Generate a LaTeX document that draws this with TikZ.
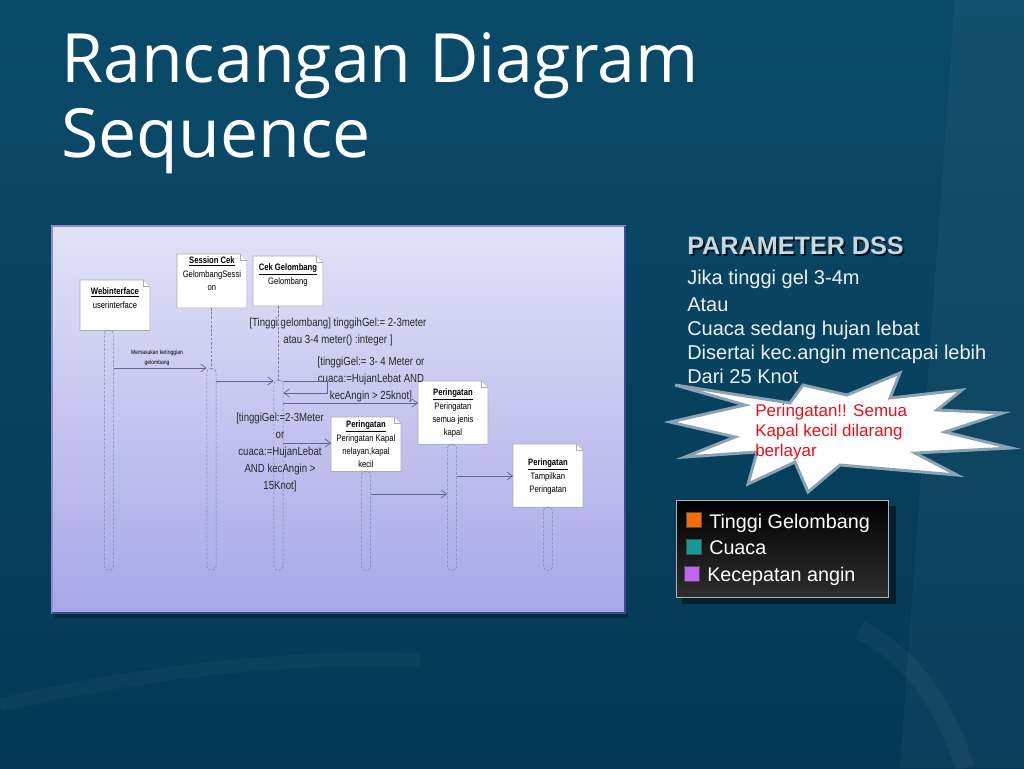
\documentclass[tikz,border=0pt]{standalone}
\usepackage{fontspec}
\setmainfont{Liberation Sans}
\newfontfamily\narrowf[FakeStretch=0.82]{Liberation Sans}
\newfontfamily\titlef{Open Sans}
\usepackage{tikz}
\usetikzlibrary{arrows.meta, positioning}
\usepackage{xcolor}

\definecolor{bgtop}{HTML}{0A4B6A}
\definecolor{bgmid}{HTML}{0A5070}
\definecolor{bgbot}{HTML}{043852}
\definecolor{panelTop}{HTML}{E2E2F7}
\definecolor{panelBot}{HTML}{A7A7E8}
\definecolor{panelEdge}{HTML}{8C8CC8}
\definecolor{panelFoot}{HTML}{3A4A96}
\definecolor{msgcol}{HTML}{5C6894}
\definecolor{burstEdge}{HTML}{8AA3B4}
\definecolor{warnred}{HTML}{E8101A}
\definecolor{orangeL}{HTML}{FF6A00}
\definecolor{tealL}{HTML}{129A9A}
\definecolor{purpleL}{HTML}{C462F2}
\definecolor{capgrey}{HTML}{C9D6DE}

\newcommand{\notefold}[1]{%
  \filldraw[notedraw] (#1.north west) -- ([xshift=-5pt]#1.north east) -- ([yshift=-5pt]#1.north east) -- (#1.south east) -- (#1.south west) -- cycle;
  \draw[notedraw] ([xshift=-5pt]#1.north east) -- ([xshift=-5pt,yshift=-5pt]#1.north east) -- ([yshift=-5pt]#1.north east);}

\tikzset{
  notedraw/.style={fill=white, draw=gray!65, line width=0.5pt},
  notebox/.style={anchor=north west, minimum width=52pt, inner sep=0pt},
  notetext/.style={align=center, inner sep=0pt, font=\narrowf\fontsize{7}{10}\selectfont},
  guard/.style={align=center, inner sep=0pt, text=black!85, font=\narrowf\fontsize{8.8}{12.75}\selectfont},
  actbar/.style={draw=msgcol!80, dashed, dash pattern=on 2pt off 1.2pt, minimum width=7pt, inner sep=0pt, rounded corners=3pt, anchor=north},
  lifeline/.style={draw=msgcol!80, dashed, dash pattern=on 2pt off 1.2pt},
  msg/.style={draw=msgcol, line width=0.55pt, -{Straight Barb[length=4pt, width=6pt]}},
  swatch/.style={draw=black!70, minimum size=11pt, inner sep=0pt},
  legtext/.style={text=white, inner sep=0pt, anchor=base west, font=\fontsize{14.8}{17}\selectfont}
}

\begin{document}
\begin{tikzpicture}[x=0.75pt, y=-0.75pt]
  \useasboundingbox (0,0) rectangle (1024,768);
  % slide background
  \shade[top color=bgtop, middle color=bgmid, bottom color=bgbot] (0,0) rectangle (1024,768);
  \fill[white, opacity=0.035] (955,0) -- (1024,0) -- (1024,768) -- (900,768) -- cycle;
  \draw[white, opacity=0.04, line width=14pt] (860,630) .. controls (920,660) and (950,720) .. (965,768);
  \draw[white, opacity=0.03, line width=10pt] (0,705) .. controls (150,670) and (300,655) .. (420,660);

  % title
  \node[anchor=base west, inner sep=0pt, text=white, font=\titlef\fontsize{51}{56}\selectfont] (title1) at (61,82) {Rancangan Diagram};
  \node[anchor=base west, inner sep=0pt, text=white, font=\titlef\fontsize{51}{56}\selectfont] (title2) at (61,157) {Sequence};

  % sequence diagram panel
  \fill[black, opacity=0.25] (55,613) rectangle (628,618);
  \shade[top color=panelTop, bottom color=panelBot, draw=panelEdge, line width=1pt] (52,226) rectangle (625,613);
  \draw[panelFoot, line width=1.2pt] (52,613) -- (625,613) -- (625,226);

  % objects
  \node[notebox, minimum height=37.5pt] (web) at (80,280) {};
  \notefold{web}
  \node[notetext, below=5.8pt of web.north] (webtxt) {\underline{\textbf{Webinterface}}\\userinterface};

  \node[notebox, minimum height=40pt] (ses) at (177,254) {};
  \notefold{ses}
  \node[notetext, below=2pt of ses.north] (sestxt) {\underline{\textbf{Session Cek}}\\GelombangSessi\\on};

  \node[notebox, minimum height=37pt] (cek) at (253,256) {};
  \notefold{cek}
  \node[notetext, below=5.8pt of cek.north] (cektxt) {\underline{\textbf{Cek Gelombang}}\\Gelombang};

  \node[notebox, minimum height=40.5pt] (kapal) at (331,417) {};
  \notefold{kapal}
  \node[notetext, below=2.8pt of kapal.north] (kapaltxt) {\underline{\textbf{Peringatan}}\\Peringatan Kapal\\nelayan,kapal\\kecil};

  \node[notebox, minimum height=47pt] (semua) at (418,381) {};
  \notefold{semua}
  \node[notetext, below=5.8pt of semua.north] (semuatxt) {\underline{\textbf{Peringatan}}\\Peringatan\\semua jenis\\kapal};

  \node[notebox, minimum height=47pt] (tampil) at (513,444) {};
  \notefold{tampil}
  \node[notetext, below=11pt of tampil.north] (tampiltxt) {\underline{\textbf{Peringatan}}\\Tampilkan\\Peringatan};

  % activation bars
  \node[actbar, minimum height=180pt] (webbar) at (109,330) {};
  \node[actbar, minimum height=151.5pt] (sesbar) at (211.5,368) {};
  \node[actbar, minimum height=142.5pt] (cekbar) at (278.5,380) {};
  \node[actbar, minimum height=74.25pt] (kapalbar) at (366,471) {};
  \node[actbar, minimum height=94.5pt] (semuabar) at (452,444) {};
  \node[actbar, minimum height=47.25pt] (tampilbar) at (548,507) {};

  % lifelines
  \draw[lifeline] (ses.south -| sesbar) -- (sesbar.north);
  \draw[lifeline] (cek.south -| cekbar) -- (cekbar.north);

  % guards
  \node[guard] (g1) at (338,331.5) {[Tinggi gelombang] tinggihGel:= 2-3meter\\atau 3-4 meter() :integer ]};
  \node[guard] (g2) at (371,379) {[tinggiGel:= 3- 4 Meter or\\cuaca:=HujanLebat AND\\kecAngin > 25knot]};
  \node[guard] (g3) at (280,452) {[tinggiGel:=2-3Meter\\or\\cuaca:=HujanLebat\\AND kecAngin >\\15Knot]};
  \node[align=center, inner sep=0pt, font=\narrowf\fontsize{4.6}{7.5}\selectfont] (m1txt) at (157,357.5) {Memasukan ketinggian\\gelombang};

  % messages
  \draw[msg] (webbar.east |- 0,368) -- (sesbar.west |- 0,368);
  \draw[msg] (sesbar.east |- 0,381) -- (cekbar.west |- 0,381);
  \draw[msg] (cekbar.east |- 0,381) -- ++(44,0) -- ++(0,12) -- (cekbar.east |- 0,393);
  \draw[msg] (cekbar.east |- 0,403) -- (semua.west |- 0,403);
  \draw[msg] (cekbar.east |- 0,443) -- (kapal.west |- 0,443);
  \draw[msg] (kapalbar.east |- 0,494) -- (semuabar.west |- 0,494);
  \draw[msg] (semuabar.east |- 0,476) -- (tampil.west |- 0,476);

  % parameter text
  \node[anchor=base west, inner sep=0pt, text=black!70!bgtop, font=\bfseries\fontsize{18.9}{20}\selectfont] at (689,256) {PARAMETER DSS};
  \node[anchor=base west, inner sep=0pt, text=capgrey, font=\bfseries\fontsize{18.9}{20}\selectfont] (param) at (687,254) {PARAMETER DSS};
  \node[anchor=base west, inner sep=0pt, text=white!92!bgtop, font=\fontsize{15}{18}\selectfont] (jika) at (687,284) {Jika tinggi gel 3-4m};
  \node[anchor=north west, inner sep=0pt, align=left, text=white!92!bgtop, font=\fontsize{15}{18}\selectfont] (cond) at (687,297.7) {Atau\\Cuaca sedang hujan lebat\\Disertai kec.angin mencapai lebih\\Dari 25 Knot};

  % warning burst
  \filldraw[fill=white, draw=burstEdge, line width=2.2pt, line join=miter]
    (675,385) -- (745,405) -- (670,422) -- (735,437) -- (685,457) -- (757,452) -- (748,484) -- (795,462)
    -- (808,492) -- (840,465) -- (957,475) -- (915,453) -- (1011,448) -- (945,432) -- (1003,413) -- (937,410)
    -- (962,390) -- (890,398) -- (900,373) -- (847,395) -- (803,385) -- (790,403) -- cycle;
  \node[anchor=north west, inner sep=0pt, align=left, text=warnred, font=\fontsize{12.75}{15}\selectfont] (warn) at (755,404) {Peringatan!! Semua\\Kapal kecil dilarang\\berlayar};

  % legend
  \fill[black!60!bgtop] (682,506) rectangle (896,604);
  \shade[top color=black, bottom color=black!82, draw=gray!60, line width=0.6pt] (676,500) rectangle (888,597);
  \node[swatch, fill=orangeL] (sq1) at (694,520) {};
  \node[swatch, fill=tealL] (sq2) at (694,547) {};
  \node[swatch, fill=purpleL] (sq3) at (692,574) {};
  \node[legtext] (leg1) at (709,528) {Tinggi Gelombang};
  \node[legtext] (leg2) at (709,554) {Cuaca};
  \node[legtext] (leg3) at (707,581) {Kecepatan angin};
\end{tikzpicture}
\end{document}
